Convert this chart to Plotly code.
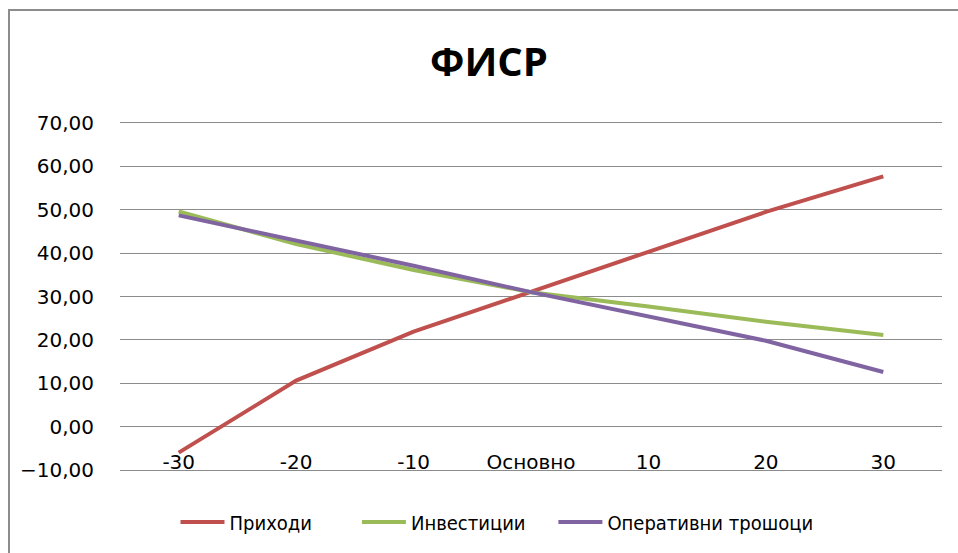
import plotly.graph_objects as go

categories = ["-30", "-20", "-10", "Основно", "10", "20", "30"]
prihodi = [-6.0, 10.6, 21.9, 31.0, 40.3, 49.5, 57.7]
investicii = [49.6, 42.1, 36.1, 31.0, 27.7, 24.2, 21.1]
operativni = [48.7, 43.0, 37.1, 31.0, 25.5, 19.8, 12.6]
series_names = ["Приходи", "Инвестиции", "Оперативни трошоци"]
y_ticks = [-10, 0, 10, 20, 30, 40, 50, 60, 70]

colors = ["#C0504D", "#9BBB59", "#8064A2"]
FONT = "DejaVu Sans"
GRID = "#8C8C8C"
# trailing spacing after each legend entry (visual gap, as in the original legend)
legend_pad = ["&nbsp;" * 7, "&nbsp;" * 4, ""]

fig = go.Figure()
for name, vals, col, pad in zip(series_names, [prihodi, investicii, operativni], colors, legend_pad):
    fig.add_trace(go.Scatter(x=categories, y=vals, name=name + pad, mode="lines",
                             line=dict(color=col, width=4),
                             hovertemplate=name + ": %{y:.2f}<extra></extra>"))

W, H = 958, 553
L, R, T, B = 120, 16, 123, 83
pw, ph = W - L - R, H - T - B

fig.update_layout(
    width=W, height=H,
    margin=dict(l=L, r=R, t=T, b=B, pad=0, autoexpand=False),
    paper_bgcolor="white", plot_bgcolor="white",
    separators=", ",
    font=dict(family=FONT, size=20, color="#000000"),
    title=dict(text="<b>ФИСР</b>", x=(489 - L) / pw, xref="paper", xanchor="center",
               y=1 - 62 / H, yref="container", yanchor="middle",
               font=dict(family="Open Sans", size=40, color="#000000")),
    showlegend=True,
    legend=dict(orientation="h", x=(497 - L) / pw, xanchor="center",
                y=(H - B - 522) / ph, yanchor="middle",
                font=dict(family="DejaVu Sans Condensed", size=20, color="#000000"),
                itemwidth=44, tracegroupgap=0),
    xaxis=dict(type="category", range=[-0.5, 6.5], showgrid=False, zeroline=False,
               showline=True, linecolor=GRID, linewidth=1, mirror=True,
               ticks="", ticklabelstandoff=-26,
               tickfont=dict(family=FONT, size=20, color="#000000")),
    yaxis=dict(range=[-10, 70], tickvals=y_ticks, tickformat=".2f",
               showgrid=True, gridcolor=GRID, gridwidth=1, zeroline=False,
               showline=False, ticks="", ticklabelstandoff=25,
               tickfont=dict(family=FONT, size=20, color="#000000")),
)

# chart border
fig.add_shape(type="rect", xref="paper", yref="paper",
              x0=(9 - L) / pw, x1=(W + 5 - L) / pw,
              y0=(H - B - (H + 5)) / ph, y1=(H - B - 10) / ph,
              line=dict(color=GRID, width=2), fillcolor="rgba(0,0,0,0)", layer="below")

fig.write_html("out.html", config={"displayModeBar": False},
               post_script="document.body.style.margin='0';document.body.style.padding='0';")
